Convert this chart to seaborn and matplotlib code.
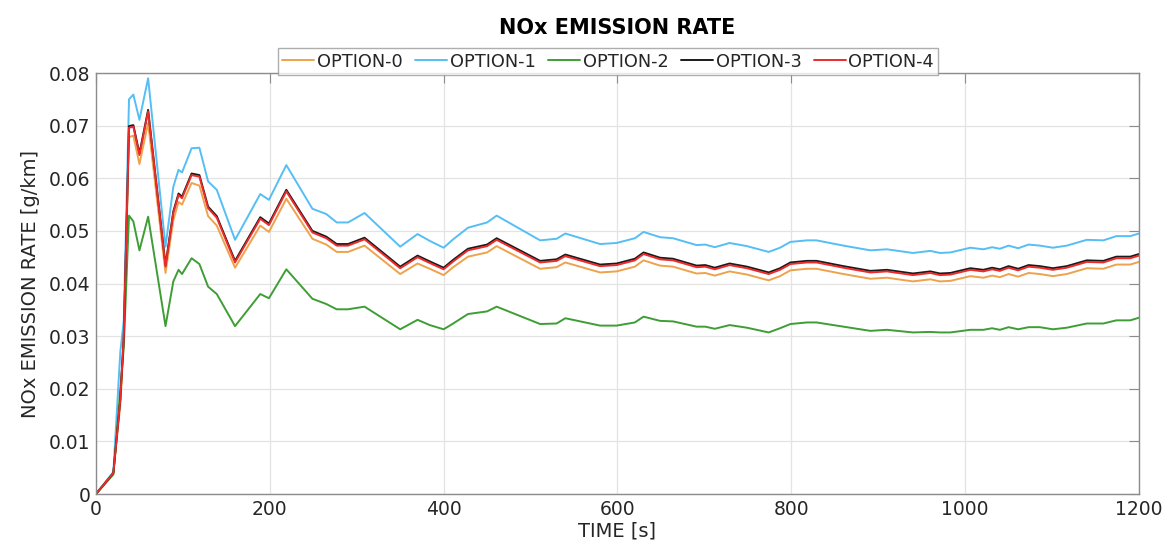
import numpy as np
import pandas as pd
import matplotlib
matplotlib.use("Agg")
import matplotlib.pyplot as plt
import seaborn as sns

# time grid [s] shared by all options
time_s = [0, 20, 28, 32, 38, 43, 50, 60, 80, 89,
          95, 99, 110, 119, 129, 139, 160, 189, 199, 219,
          249, 265, 277, 290, 309, 350, 370, 384, 400, 411,
          428, 450, 461, 511, 530, 540, 580, 599, 620, 630,
          649, 664, 691, 701, 712, 729, 749, 774, 787, 799,
          818, 829, 860, 891, 910, 940, 960, 971, 983, 1006,
          1021, 1031, 1040, 1050, 1061, 1073, 1086, 1101, 1117, 1140,
          1159, 1174, 1190, 1200]

# NOx emission rate [g/km]
option_0 = [0, 0.0040, 0.017, 0.029, 0.0678, 0.0681, 0.0627, 0.0705, 0.0420, 0.0520,
            0.0555, 0.0550, 0.0591, 0.0586, 0.0528, 0.0510, 0.0430, 0.0510, 0.0498, 0.0561,
            0.0485, 0.0474, 0.0460, 0.0460, 0.0472, 0.0418, 0.0438, 0.0428, 0.0416, 0.0431,
            0.0451, 0.0459, 0.0471, 0.0428, 0.0431, 0.0440, 0.0421, 0.0423, 0.0432, 0.0444,
            0.0434, 0.0432, 0.0419, 0.0420, 0.0415, 0.0423, 0.0417, 0.0406, 0.0414, 0.0425,
            0.0428, 0.0428, 0.0418, 0.0409, 0.0411, 0.0404, 0.0408, 0.0404, 0.0405, 0.0414,
            0.0411, 0.0415, 0.0412, 0.0418, 0.0413, 0.0420, 0.0418, 0.0414, 0.0418, 0.0429,
            0.0428, 0.0436, 0.0436, 0.0441]

option_1 = [0, 0.0042, 0.027, 0.033, 0.0750, 0.0759, 0.0711, 0.0790, 0.0470, 0.0584,
            0.0616, 0.0611, 0.0657, 0.0658, 0.0594, 0.0578, 0.0483, 0.0570, 0.0559, 0.0625,
            0.0542, 0.0532, 0.0516, 0.0516, 0.0534, 0.0470, 0.0494, 0.0481, 0.0468, 0.0484,
            0.0506, 0.0516, 0.0529, 0.0482, 0.0485, 0.0495, 0.0475, 0.0477, 0.0486, 0.0498,
            0.0488, 0.0486, 0.0473, 0.0474, 0.0469, 0.0477, 0.0471, 0.0460, 0.0468, 0.0479,
            0.0482, 0.0482, 0.0472, 0.0463, 0.0465, 0.0458, 0.0462, 0.0458, 0.0459, 0.0468,
            0.0465, 0.0469, 0.0466, 0.0472, 0.0467, 0.0474, 0.0472, 0.0468, 0.0472, 0.0483,
            0.0482, 0.0490, 0.0490, 0.0495]

option_2 = [0, 0.0037, 0.0198, 0.028, 0.0529, 0.0518, 0.0463, 0.0527, 0.0319, 0.0404,
            0.0426, 0.0418, 0.0448, 0.0437, 0.0394, 0.0380, 0.0319, 0.0380, 0.0372, 0.0427,
            0.0371, 0.0361, 0.0351, 0.0351, 0.0356, 0.0313, 0.0331, 0.0321, 0.0313, 0.0324,
            0.0342, 0.0347, 0.0356, 0.0323, 0.0324, 0.0334, 0.0320, 0.0320, 0.0326, 0.0337,
            0.0329, 0.0328, 0.0318, 0.0318, 0.0314, 0.0321, 0.0316, 0.0307, 0.0315, 0.0323,
            0.0326, 0.0326, 0.0318, 0.0310, 0.0312, 0.0307, 0.0308, 0.0307, 0.0307, 0.0312,
            0.0312, 0.0315, 0.0312, 0.0317, 0.0313, 0.0317, 0.0317, 0.0313, 0.0316, 0.0324,
            0.0324, 0.0330, 0.0330, 0.0335]

option_3 = [0, 0.0040, 0.018, 0.030, 0.0699, 0.0701, 0.0647, 0.0730, 0.0435, 0.0537,
            0.0571, 0.0565, 0.0609, 0.0606, 0.0546, 0.0528, 0.0443, 0.0526, 0.0514, 0.0578,
            0.0500, 0.0489, 0.0475, 0.0475, 0.0487, 0.0432, 0.0453, 0.0442, 0.0430, 0.0445,
            0.0466, 0.0474, 0.0486, 0.0443, 0.0446, 0.0455, 0.0436, 0.0438, 0.0447, 0.0459,
            0.0449, 0.0447, 0.0434, 0.0435, 0.0430, 0.0438, 0.0432, 0.0421, 0.0429, 0.0440,
            0.0443, 0.0443, 0.0433, 0.0424, 0.0426, 0.0419, 0.0423, 0.0419, 0.0420, 0.0429,
            0.0426, 0.0430, 0.0427, 0.0433, 0.0428, 0.0435, 0.0433, 0.0429, 0.0433, 0.0444,
            0.0443, 0.0451, 0.0451, 0.0456]

option_4 = [0, 0.0040, 0.018, 0.030, 0.0696, 0.0698, 0.0644, 0.0727, 0.0432, 0.0534,
            0.0568, 0.0562, 0.0606, 0.0603, 0.0543, 0.0525, 0.0440, 0.0523, 0.0511, 0.0575,
            0.0497, 0.0486, 0.0472, 0.0472, 0.0484, 0.0429, 0.0450, 0.0439, 0.0427, 0.0442,
            0.0463, 0.0471, 0.0483, 0.0440, 0.0443, 0.0452, 0.0433, 0.0435, 0.0444, 0.0456,
            0.0446, 0.0444, 0.0431, 0.0432, 0.0427, 0.0435, 0.0429, 0.0418, 0.0426, 0.0437,
            0.0440, 0.0440, 0.0430, 0.0421, 0.0423, 0.0416, 0.0420, 0.0416, 0.0417, 0.0426,
            0.0423, 0.0427, 0.0424, 0.0430, 0.0425, 0.0432, 0.0430, 0.0426, 0.0430, 0.0441,
            0.0440, 0.0448, 0.0448, 0.0453]

option_names = ["OPTION-0", "OPTION-1", "OPTION-2", "OPTION-3", "OPTION-4"]
colors = ["#EEA24C", "#55BEF5", "#3E9E35", "#1A1A1A", "#EE2A2A"]

#%%
frames = []
for name, vals in zip(option_names, [option_0, option_1, option_2, option_3, option_4]):
    frames.append(pd.DataFrame({"time": time_s, "rate": vals, "option": name}))
df = pd.concat(frames, ignore_index=True)

sns.set_style("white")
plt.rcParams["font.family"] = ["DejaVu Sans"]

fig = plt.figure(figsize=(11.69, 5.56), dpi=100)
ax = fig.add_axes([0.0821, 0.1115, 0.8922, 0.7572])

sns.lineplot(data=df, x="time", y="rate", hue="option", hue_order=option_names,
             palette=colors, linewidth=1.4, estimator=None, sort=False, ax=ax)

ax.set_xlim(0, 1200)
ax.set_ylim(0, 0.08)
ax.set_xticks(np.arange(0, 1201, 200))
ax.set_yticks(np.arange(0, 0.081, 0.01))
ax.set_yticklabels(["0"] + ["%.2f" % v for v in np.arange(0.01, 0.081, 0.01)])
ax.grid(True, color="#e3e3e3", linewidth=0.9)
ax.tick_params(direction="in", length=7, color="#8c8c8c", labelsize=13.5,
               top=True, right=True, labelcolor="#262626", pad=4)
for s in ax.spines.values():
    s.set_color("#8c8c8c")
    s.set_linewidth(1.0)

ax.set_xlabel("TIME [s]", fontsize=14, color="#262626", labelpad=2)
ax.set_ylabel("NOx EMISSION RATE [g/km]", fontsize=14, color="#262626", labelpad=6)
ax.set_title("NOx EMISSION RATE", fontsize=15, fontweight="bold", color="black", pad=28)

leg = ax.legend(loc="lower center", bbox_to_anchor=(0.491, 0.995), ncol=5,
                fontsize=12.8, frameon=True, fancybox=False, handlelength=1.8,
                handletextpad=0.15, columnspacing=0.7, borderpad=0.25,
                borderaxespad=0.0, edgecolor="#9a9a9a")
leg.get_frame().set_linewidth(1.0)
leg.set_title(None)

fig.savefig("out.png", dpi=100)
